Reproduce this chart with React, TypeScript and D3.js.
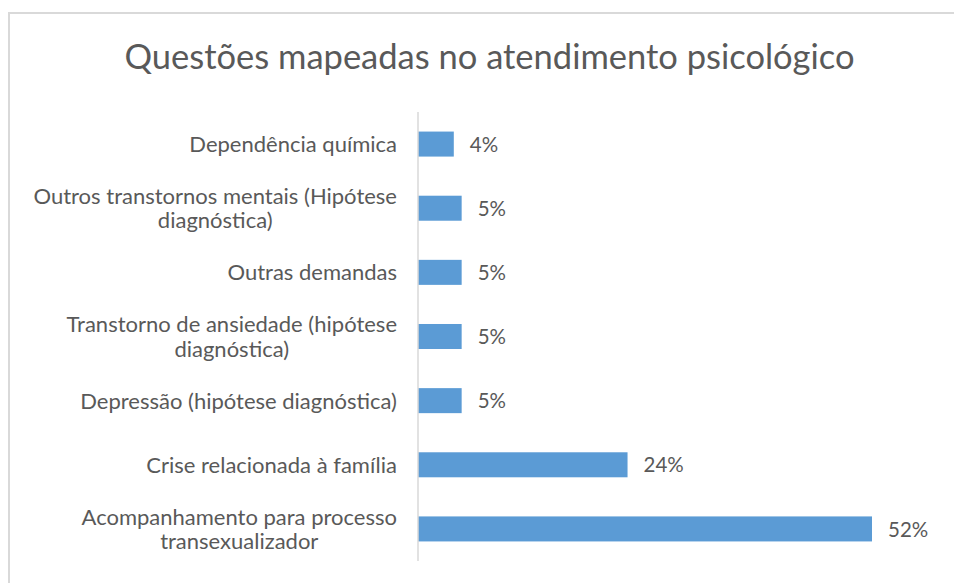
import React, { useEffect, useRef } from "react";
import * as d3 from "d3";

const title = "Questões mapeadas no atendimento psicológico";
const categories = [
  "Dependência química",
  "Outros transtornos mentais (Hipótese diagnóstica)",
  "Outras demandas",
  "Transtorno de ansiedade (hipótese diagnóstica)",
  "Depressão (hipótese diagnóstica)",
  "Crise relacionada à família",
  "Acompanhamento para processo transexualizador",
];
const values = [4.1, 5, 5, 5, 5, 24, 52];
const valueLabels = ["4%", "5%", "5%", "5%", "5%", "24%", "52%"];

const W = 954;
const H = 583;
const FONT = "Lato, 'Open Sans', sans-serif";
const TEXT = "#595959";
const BAR = "#5B9BD5";
const GRID = "#D9D9D9";

export default function App() {
  const ref = useRef<SVGSVGElement | null>(null);

  useEffect(() => {
    const svg = d3.select(ref.current);
    svg.selectAll("*").remove();

    // chart border (top and left)
    svg.append("path")
      .attr("d", `M9,${H} V13 H${W}`)
      .attr("fill", "none")
      .attr("stroke", GRID)
      .attr("stroke-width", 2);

    svg.append("text")
      .attr("x", 489.5)
      .attr("y", 69)
      .attr("text-anchor", "middle")
      .attr("font-size", 34.5)
      .attr("fill", TEXT)
      .text(title);

    const x = d3.scaleLinear().domain([0, d3.max(values) as number]).range([418, 872]);
    const y = d3.scaleBand<string>()
      .domain(categories)
      .range([112, 561])
      .paddingInner(0.61)
      .paddingOuter(0.305);

    svg.append("g")
      .selectAll("rect")
      .data(categories)
      .join("rect")
      .attr("x", x(0))
      .attr("y", (d) => y(d) as number)
      .attr("width", (_d, i) => x(values[i]) - x(0))
      .attr("height", y.bandwidth())
      .attr("fill", BAR);

    // axis line
    svg.append("line")
      .attr("x1", x(0)).attr("x2", x(0))
      .attr("y1", y.range()[0]).attr("y2", y.range()[1])
      .attr("stroke", GRID)
      .attr("stroke-width", 1.5);

    // value labels
    svg.append("g")
      .selectAll("text")
      .data(categories)
      .join("text")
      .attr("x", (_d, i) => x(values[i]) + 16)
      .attr("y", (d) => (y(d) as number) + y.bandwidth() / 2)
      .attr("dy", "0.37em")
      .attr("font-size", 20.5)
      .attr("fill", TEXT)
      .text((_d, i) => valueLabels[i]);

    // category labels with wrapping
    const maxW = 385;
    const lineH = 24.5;
    const rightEdge = 397;
    const g = svg.append("g").attr("font-size", 22).attr("fill", TEXT);
    categories.forEach((cat) => {
      const t = g.append("text").attr("text-anchor", "middle");
      const words = cat.split(" ");
      const lines: string[] = [];
      let cur = "";
      const probe = g.append("text");
      words.forEach((w) => {
        const test = cur ? cur + " " + w : w;
        probe.text(test);
        const len = (probe.node() as SVGTextElement).getComputedTextLength();
        if (len > maxW && cur) {
          lines.push(cur);
          cur = w;
        } else cur = test;
      });
      lines.push(cur);
      let widest = 0;
      lines.forEach((l) => {
        probe.text(l);
        widest = Math.max(widest, (probe.node() as SVGTextElement).getComputedTextLength());
      });
      probe.remove();
      const cx = rightEdge - widest / 2;
      const cy = (y(cat) as number) + y.bandwidth() / 2;
      lines.forEach((l, i) => {
        t.append("tspan")
          .attr("x", cx)
          .attr("y", cy + (i - (lines.length - 1) / 2) * lineH)
          .attr("dy", "0.36em")
          .text(l);
      });
    });
  }, []);

  return (
    <>
      <style>{`body{margin:0}`}</style>
      <svg
        ref={ref}
        width={W}
        height={H}
        style={{ display: "block", background: "#fff", fontFamily: FONT }}
      />
    </>
  );
}
